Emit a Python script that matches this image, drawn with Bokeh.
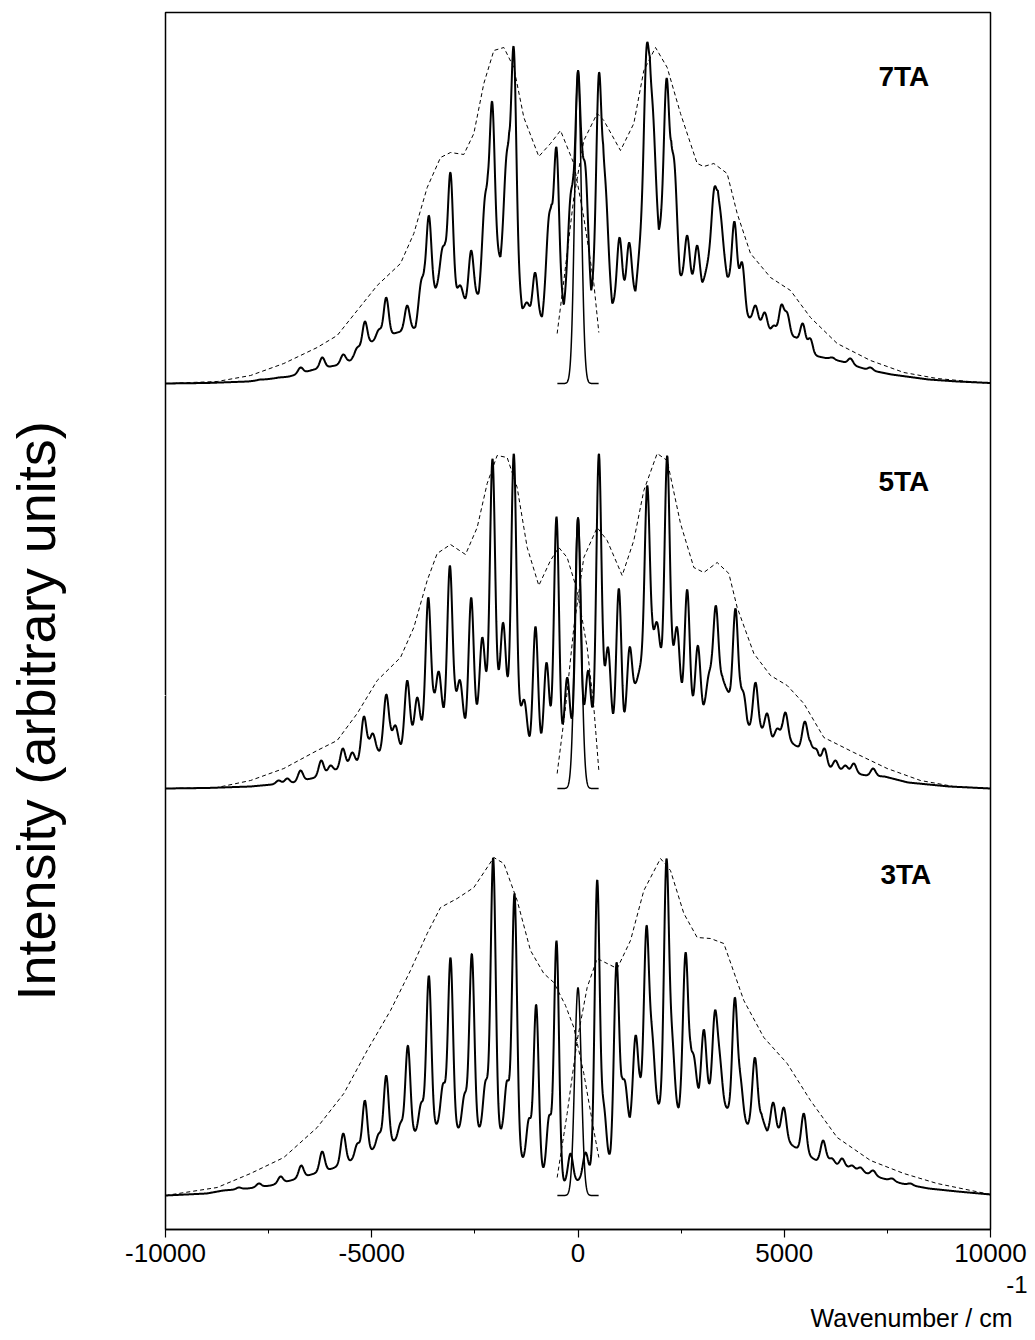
import numpy as np
from bokeh.plotting import figure
from bokeh.models import FixedTicker, Label, Title
from bokeh.embed import file_html
from bokeh.resources import INLINE

# ---------------- data (wavenumber / cm-1, intensity a.u.) -------------
tick_values = [-10000, -5000, 0, 5000, 10000]
minor_tick_values = [-7500, -2500, 2500, 7500]
tick_labels = ["-10000", "-5000", "0", "5000", "10000"]
panel_names = ["3TA", "5TA", "7TA"]
panel_baselines = [0, 407, 812]
pulse_heights = [208, 271, 313]

# 7TA
peaks_7TA_w = [-7700, -7250, -6727, -6200, -5692, -5353, -5168, -4829, -4650, -4141, -3802, -3616,
               -3285, -3091, -2850, -2590, -2259, -2081, -1733, -1556, -1232, -1040, -707, -521,
               -182, 0, 182, 505, 667, 1006, 1240, 1661, 1814, 2145, 2339, 2647, 2889, 3147, 3300,
               3450, 3794, 3980, 4303, 4529, 4750, 4933, 5071, 5450, 5635, 5960, 6162, 6606, 7091]
peaks_7TA_h = [4, 6, 16, 26, 29, 36, 62, 54, 86, 78, 103, 168,
               136, 211, 98, 133, 186, 282, 229, 336, 81, 111, 167, 236,
               188, 313, 216, 310, 201, 146, 141, 336, 276, 305, 220, 148, 138, 113, 195,
               173, 162, 121, 78, 71, 58, 79, 71, 60, 45, 25, 26, 25, 16]
valleys_7TA_w = [-10000, -9000, -8000, -7000, -6400, -5879, -5515, -5030, -4747, -4384, -3939, -3721,
                 -3455, -3220, -2945, -2727, -2404, -2186, -1879, -1669, -1353, -1152, -868, -642,
                 -344, -117, 101, 319, 610, 828, 1111, 1394, 1741, 1960, 2259, 2469, 2768, 3010,
                 3390, 3616, 4101, 4424, 4667, 5273, 5717, 6400, 7000, 7600, 8500, 9200, 10000]
valleys_7TA_h = [0, 0.5, 2, 7, 14, 18, 23, 41, 46, 51, 55, 90,
                 93, 116, 88, 80, 88, 156, 123, 185, 73, 65, 65, 135,
                 75, 153, 171, 86, 171, 78, 86, 90, 253, 150, 200, 105, 98, 96,
                 166, 106, 66, 58, 51, 46, 28, 22, 14, 9, 4, 2, 0.5]
envL_7TA_w = [-10000, -8747, -7939, -7132, -6323, -5838, -5353, -4868, -4303, -3980, -3656, -3333,
              -3091, -2768, -2525, -2283, -2040, -1798, -1556, -1313, -950, -667, -424, -101, 141,
              384, 505]
envL_7TA_h = [0, 2, 8, 20, 36, 48, 73, 98, 120, 150, 196, 226,
              231, 229, 250, 300, 333, 336, 316, 266, 227, 240, 253, 220, 166,
              100, 51]
envR_7TA_w = [-505, -343, -101, 141, 465, 626, 1030, 1353, 1596, 1879, 2162, 2485, 2889, 3050,
              3293, 3616, 3859, 4182, 4667, 5152, 5636, 6283, 7091, 7899, 8707, 10000]
envR_7TA_h = [50, 103, 186, 243, 270, 263, 233, 260, 313, 336, 316, 270, 220, 217,
              220, 210, 170, 130, 106, 93, 66, 40, 23, 11, 5, 0]

# 5TA
peaks_5TA_w = [-7260, -7050, -6727, -6226, -6000, -5702, -5475, -5192, -4974, -4650, -4424, -4141,
               -3899, -3632, -3374, -3107, -2857, -2590, -2323, -2073, -1814, -1556, -1297, -1030,
               -764, -521, -263, 0, 247, 505, 731, 990, 1248, 1499, 1677, 1919, 2162, 2404, 2647,
               2905, 3172, 3340, 3818, 4020, 4303, 4586, 4829, 5030, 5498, 5800, 5976, 6242, 6485,
               6687, 7155, 7616]
peaks_5TA_h = [8, 10, 18, 28, 23, 40, 36, 72, 55, 94, 63, 108,
               91, 191, 117, 223, 108, 191, 151, 330, 166, 335, 88, 162,
               126, 272, 111, 271, 118, 335, 141, 200, 141, 121, 303, 166, 333, 161, 199,
               143, 115, 183, 180, 95, 106, 75, 60, 76, 67, 38, 40, 28, 23,
               25, 20, 10]
valleys_5TA_w = [-10000, -9000, -7940, -7150, -6890, -6364, -5879, -5353, -5071, -4806, -4545, -4286,
                 -4020, -3778, -3495, -3253, -2980, -2727, -2450, -2210, -1935, -1697, -1400, -1168,
                 -893, -640, -384, -141, 125, 368, 610, 853, 1111, 1394, 1798, 2040, 2283, 2526,
                 2783, 3034, 3240, 3500, 3697, 3939, 4101, 4424, 4707, 4929, 5353, 5636, 5838, 6073,
                 6350, 6580, 7000, 7430, 8000, 9000, 10000]
valleys_5TA_h = [0, 0.5, 2, 5, 6, 11, 18, 26, 41, 36, 50, 40,
                 51, 58, 83, 68, 85, 58, 68, 90, 94, 85, 70, 41,
                 38, 50, 41, 50, 58, 58, 85, 55, 55, 101, 145, 118, 120, 83,
                 75, 76, 100, 110, 90, 85, 60, 58, 48, 52, 41, 45, 25, 20,
                 18, 16, 13, 12, 6, 2, 0]
envL_5TA_w = [-10000, -8747, -7939, -7132, -6323, -5838, -5353, -4868, -4303, -3980, -3656, -3414,
              -3091, -2727, -2444, -2202, -1960, -1717, -1475, -1232, -950, -667, -465, -263, -20,
              222, 384, 505]
envL_5TA_h = [0, 1, 8, 20, 38, 48, 75, 108, 131, 161, 208, 235,
              244, 234, 261, 305, 333, 331, 301, 241, 203, 228, 241, 231, 198,
              141, 81, 18]
envR_5TA_w = [-505, -303, -101, 141, 465, 707, 1071, 1353, 1596, 1919, 2162, 2485, 2808, 3050,
              3374, 3657, 3859, 4263, 4667, 5071, 5475, 5960, 6687, 7495, 8303, 9111, 10000]
envR_5TA_h = [15, 81, 161, 231, 261, 248, 213, 248, 298, 335, 328, 265, 221, 216,
              226, 215, 181, 135, 113, 103, 85, 51, 36, 20, 8, 2, 0]

# 3TA
peaks_3TA_w = [-8222, -7737, -7212, -6711, -6202, -5692, -5350, -5168, -4830, -4650, -4300, -4125,
               -3800, -3616, -3270, -3091, -2750, -2574, -2240, -2057, -1720, -1539, -1190, -1014,
               -700, -521, -182, 182, 465, 626, 933, 1135, 1394, 1535, 1661, 1798, 2145, 2283, 2606,
               2808, 3050, 3320, 3438, 3802, 3939, 4287, 4731, 4990, 5475, 5943, 6162, 6404, 6646,
               6850, 7155, 7616, 8061]
peaks_3TA_h = [8, 12, 19, 30, 44, 62, 52, 95, 62, 120, 73, 150,
               93, 220, 112, 238, 102, 242, 115, 338, 115, 302, 77, 191,
               80, 255, 42, 43, 316, 92, 233, 115, 160, 115, 270, 165, 337, 165, 243,
               140, 166, 185, 142, 198, 120, 138, 93, 88, 82, 55, 37, 37, 30,
               28, 25, 17, 12]
valleys_3TA_w = [-10000, -9000, -8600, -8020, -7455, -6970, -6468, -5960, -5434, -4909, -4408, -3899,
                 -3374, -2865, -2380, -1838, -1329, -844, -344, 0, 287, 788, 1071, 1256, 1500, 1960,
                 2444, 2727, 2929, 3172, 3657, 4117, 4450, 4586, 4860, 5200, 5313, 5782, 6050, 6290,
                 6520, 7000, 7400, 7850, 8500, 9200, 10000]
valleys_3TA_h = [0, 2, 5, 7, 10, 15, 21, 27, 36, 47, 55, 63,
                 70, 65, 65, 62, 35, 22, 12, 15, 22, 35, 87, 68, 100, 88,
                 83, 125, 95, 100, 85, 70, 80, 63, 62, 50, 47, 35, 35, 30,
                 28, 22, 17, 12, 7, 4, 1]
envL_3TA_w = [-10000, -8747, -7939, -7132, -6323, -5677, -5111, -4545, -4061, -3656, -3333, -2929,
              -2525, -2040, -1798, -1475, -1152, -829, -586, -303, -101, 141, 384, 505]
envL_3TA_h = [0, 8, 22, 38, 68, 102, 145, 185, 225, 262, 288, 297,
              308, 338, 332, 295, 245, 222, 213, 190, 168, 122, 65, 38]
envR_3TA_w = [-505, -263, -20, 222, 465, 707, 950, 1273, 1596, 2000, 2242, 2566, 2889, 3212, 3535,
              4020, 4505, 5071, 5636, 6283, 7091, 7899, 8707, 10000]
envR_3TA_h = [18, 82, 155, 208, 237, 232, 227, 255, 305, 337, 325, 282, 258, 257, 252,
              195, 158, 132, 95, 58, 35, 22, 12, 1]

peaks_w = {"3TA": peaks_3TA_w, "5TA": peaks_5TA_w, "7TA": peaks_7TA_w}
peaks_h = {"3TA": peaks_3TA_h, "5TA": peaks_5TA_h, "7TA": peaks_7TA_h}
valleys_w = {"3TA": valleys_3TA_w, "5TA": valleys_5TA_w, "7TA": valleys_7TA_w}
valleys_h = {"3TA": valleys_3TA_h, "5TA": valleys_5TA_h, "7TA": valleys_7TA_h}
envL_w = {"3TA": envL_3TA_w, "5TA": envL_5TA_w, "7TA": envL_7TA_w}
envL_h = {"3TA": envL_3TA_h, "5TA": envL_5TA_h, "7TA": envL_7TA_h}
envR_w = {"3TA": envR_3TA_w, "5TA": envR_5TA_w, "7TA": envR_7TA_w}
envR_h = {"3TA": envR_3TA_h, "5TA": envR_5TA_h, "7TA": envR_7TA_h}

# ---------------- line shapes ----------------
SIGMA = 60.0
PULSE_SIGMA = 80.0
grid = np.arange(-10000, 10001, 10.0)


def spectrum_curve(pw, ph, vw, vh):
    pw = np.asarray(pw, float)
    ph = np.asarray(ph, float)
    bg = np.interp(grid, vw, vh)
    target = np.clip(ph - np.interp(pw, vw, vh), 0, None)
    G = np.exp(-(pw[:, None] - pw[None, :]) ** 2 / (2 * SIGMA ** 2))
    a = target.copy()
    for _ in range(80):
        a = np.clip(a + 0.5 * (target - G @ a), 0, None)
    shapes = np.exp(-(grid[:, None] - pw[None, :]) ** 2 / (2 * SIGMA ** 2))
    return bg + shapes @ a


p = figure(width=1035, height=1340, x_range=(-10000, 10000), y_range=(-34, 1183),
           output_backend="svg", toolbar_location=None,
           min_border_left=165, min_border_right=45, min_border_top=12, min_border_bottom=111)
p.grid.visible = False
p.outline_line_color = "black"
p.outline_line_width = 1.5
p.outline_line_alpha = 1.0
p.background_fill_color = "white"
p.border_fill_color = "white"

# bottom axis
ax = p.xaxis[0]
ax.ticker = FixedTicker(ticks=tick_values, minor_ticks=minor_tick_values)
ax.major_label_overrides = {v: s for v, s in zip(tick_values, tick_labels)}
ax.axis_line_color = "black"
ax.axis_line_width = 1.5
ax.major_tick_line_color = "black"
ax.major_tick_line_width = 1.2
ax.major_tick_in = 0
ax.major_tick_out = 8
ax.minor_tick_line_color = "black"
ax.minor_tick_in = 0
ax.minor_tick_out = 4
ax.major_label_text_font = "Liberation Sans"
ax.major_label_text_font_size = "26px"
ax.major_label_text_color = "black"
ax.major_label_standoff = 6

# left axis: a single white (invisible) tick that only reserves room between frame and title
yax = p.yaxis[0]
yax.ticker = FixedTicker(ticks=[500], minor_ticks=[])
yax.major_label_overrides = {500: ""}
yax.axis_line_color = None
yax.major_tick_line_color = "white"
yax.minor_tick_line_color = None
yax.major_label_text_color = None
yax.major_tick_in = 0
yax.major_tick_out = 100
yax.minor_tick_in = 0
yax.minor_tick_out = 0
yax.major_label_standoff = 0

for name, base, ph0 in zip(panel_names, panel_baselines, pulse_heights):
    y = spectrum_curve(peaks_w[name], peaks_h[name], valleys_w[name], valleys_h[name])
    p.line(grid, y + base, line_color="black", line_width=2)
    p.line(envL_w[name], np.asarray(envL_h[name], float) + base,
           line_color="black", line_width=1, line_dash="4 3")
    p.line(envR_w[name], np.asarray(envR_h[name], float) + base,
           line_color="black", line_width=1, line_dash="4 3")
    wp = np.arange(-500, 501, 5.0)
    p.line(wp, base + ph0 * np.exp(-wp ** 2 / (2 * PULSE_SIGMA ** 2)),
           line_color="black", line_width=1.5)

label_x = [7333, 7285, 7285]
label_y = [321, 714, 1119]
for name, lx, ly in zip(panel_names, label_x, label_y):
    p.add_layout(Label(x=lx, y=ly, text=name, text_font="Liberation Sans",
                       text_font_style="bold", text_font_size="28px", text_color="black",
                       text_align="left", text_baseline="alphabetic"))

# axis titles as side-panel titles
p.add_layout(Title(text="Intensity (arbitrary units)", align="left", offset=229,
                   standoff=0, text_font="Liberation Sans", text_font_size="54px",
                   text_font_style="normal", text_color="black"), "left")
p.add_layout(Title(text="-1", align="right", offset=-37, standoff=18,
                   text_font="Liberation Sans", text_font_size="24px",
                   text_font_style="normal", text_color="black"), "below")
p.add_layout(Title(text="Wavenumber / cm", align="right", offset=-22, standoff=0,
                   text_font="Liberation Sans", text_font_size="25px",
                   text_font_style="normal", text_color="black"), "below")

open("out.html", "w").write(file_html(p, INLINE))
